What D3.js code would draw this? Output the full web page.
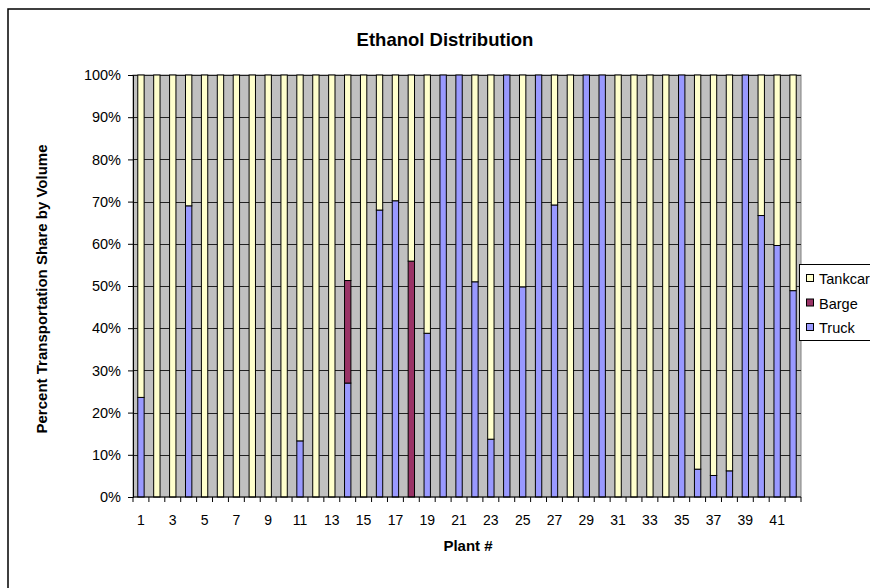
<!DOCTYPE html>
<html>
<head>
<meta charset="utf-8">
<title>Ethanol Distribution</title>
<script src="https://cdn.jsdelivr.net/npm/d3@7"></script>
<style>
  body { margin: 0; background: #fff; }
  svg { display: block; font-family: Arial, "Liberation Sans", sans-serif; }
</style>
</head>
<body>
<script>
// data (percent of volume per plant)
var plants = d3.range(1, 43);
var truck = [23.6, 0, 0, 69, 0, 0, 0, 0, 0, 0,
             13.3, 0, 0, 27, 0, 68, 70.2, 0, 38.8, 100,
             100, 51, 13.7, 100, 49.8, 100, 69.2, 0, 100, 100,
             0, 0, 0, 0, 100, 6.6, 5.1, 6.2, 100, 66.7, 59.6, 48.9];
var barge = [0, 0, 0, 0, 0, 0, 0, 0, 0, 0,
             0, 0, 0, 24.3, 0, 0, 0, 55.9, 0, 0,
             0, 0, 0, 0, 0, 0, 0, 0, 0, 0,
             0, 0, 0, 0, 0, 0, 0, 0, 0, 0, 0, 0];
var tankcar = truck.map(function(t, i) { return 100 - t - barge[i]; });
var seriesNames = ["Truck", "Barge", "Tankcar"];
var seriesColors = ["#9999FF", "#993366", "#FFFFCC"];
var yTicks = d3.range(0, 101, 10);

var W = 870, H = 588;
var plot = { left: 133, right: 801, top: 75, bottom: 497 };

var rows = plants.map(function(p, i) {
  return { plant: p, Truck: truck[i], Barge: barge[i], Tankcar: tankcar[i] };
});
var stacked = d3.stack().keys(seriesNames)(rows);

var svg = d3.select("body").append("svg").attr("width", W).attr("height", H);
svg.append("rect").attr("width", W).attr("height", H).attr("fill", "#fff");

// chart area border (runs off the right/bottom edges)
svg.append("rect").attr("x", 8).attr("y", 9).attr("width", 900).attr("height", 600)
  .attr("fill", "none").attr("stroke", "#000").attr("stroke-width", 1.5);

var x = d3.scaleBand().domain(plants).range([plot.left, plot.right])
  .paddingInner(0.6).paddingOuter(0.3);
var y = d3.scaleLinear().domain([0, 100]).range([plot.bottom, plot.top]);
var color = d3.scaleOrdinal().domain(seriesNames).range(seriesColors);

// plot area
svg.append("rect").attr("x", plot.left).attr("y", plot.top)
  .attr("width", plot.right - plot.left).attr("height", plot.bottom - plot.top)
  .attr("fill", "#C0C0C0").attr("stroke", "#808080");

// gridlines
svg.append("g").selectAll("line").data(yTicks.slice(1)).enter().append("line")
  .attr("x1", plot.left).attr("x2", plot.right)
  .attr("y1", function(d) { return Math.round(y(d)) + 0.5; })
  .attr("y2", function(d) { return Math.round(y(d)) + 0.5; })
  .attr("stroke", "#222").attr("stroke-width", 1);

// bars
svg.append("g").selectAll("g").data(stacked).enter().append("g")
  .attr("fill", function(d) { return color(d.key); })
  .selectAll("rect")
  .data(function(d) { return d.filter(function(s) { return s[1] - s[0] > 0; }); })
  .enter().append("rect")
  .attr("x", function(d) { return x(d.data.plant); })
  .attr("width", x.bandwidth())
  .attr("y", function(d) { return y(d[1]); })
  .attr("height", function(d) { return y(d[0]) - y(d[1]); })
  .attr("stroke", "#000").attr("stroke-width", 1);

// y axis
var yAxis = svg.append("g").attr("transform", "translate(" + plot.left + ",0)")
  .call(d3.axisLeft(y).tickValues(yTicks).tickSize(5).tickPadding(7)
    .tickFormat(function(d) { return d + "%"; }));
yAxis.select(".domain").attr("stroke", "#000");
yAxis.selectAll("text").attr("font-size", 14.5).attr("fill", "#000")
  .attr("font-family", "Arial, 'Liberation Sans', sans-serif");

// x axis: ticks between categories, labels on odd plants
var xAxis = svg.append("g").attr("transform", "translate(0," + plot.bottom + ")");
xAxis.append("line").attr("x1", plot.left).attr("x2", plot.right)
  .attr("stroke", "#000");
xAxis.selectAll(".tk").data(d3.range(0, plants.length + 1)).enter().append("line")
  .attr("class", "tk")
  .attr("x1", function(i) { return plot.left + i * x.step(); })
  .attr("x2", function(i) { return plot.left + i * x.step(); })
  .attr("y1", 0).attr("y2", 5).attr("stroke", "#000");
xAxis.selectAll("text").data(plants.filter(function(p) { return p % 2 === 1; }))
  .enter().append("text")
  .attr("x", function(p) { return x(p) + x.bandwidth() / 2; })
  .attr("y", 28).attr("text-anchor", "middle").attr("font-size", 14)
  .text(function(p) { return p; });

// titles
svg.append("text").attr("x", 445).attr("y", 46).attr("text-anchor", "middle")
  .attr("font-size", 18.5).attr("font-weight", "bold").text("Ethanol Distribution");
svg.append("text").attr("x", 468).attr("y", 551).attr("text-anchor", "middle")
  .attr("font-size", 15).attr("font-weight", "bold").text("Plant #");
svg.append("text").attr("transform", "translate(47,289) rotate(-90)")
  .attr("text-anchor", "middle").attr("font-size", 15).attr("font-weight", "bold")
  .text("Percent Transportation Share by Volume");

// legend (clipped by the right edge, like the original)
var legend = svg.append("g");
legend.append("rect").attr("x", 799.5).attr("y", 264.5).attr("width", 100).attr("height", 76)
  .attr("fill", "#fff").attr("stroke", "#000");
var items = seriesNames.slice().reverse();
legend.selectAll("g.item").data(items).enter().append("g").attr("class", "item")
  .each(function(d, i) {
    var g = d3.select(this);
    var cy = 279 + i * 24.5;
    g.append("rect").attr("x", 806.5).attr("y", cy - 4.5).attr("width", 7).attr("height", 7)
      .attr("fill", color(d)).attr("stroke", "#000");
    g.append("text").attr("x", 819).attr("y", cy + 5).attr("font-size", 14.5).text(d);
  });
</script>
</body>
</html>
